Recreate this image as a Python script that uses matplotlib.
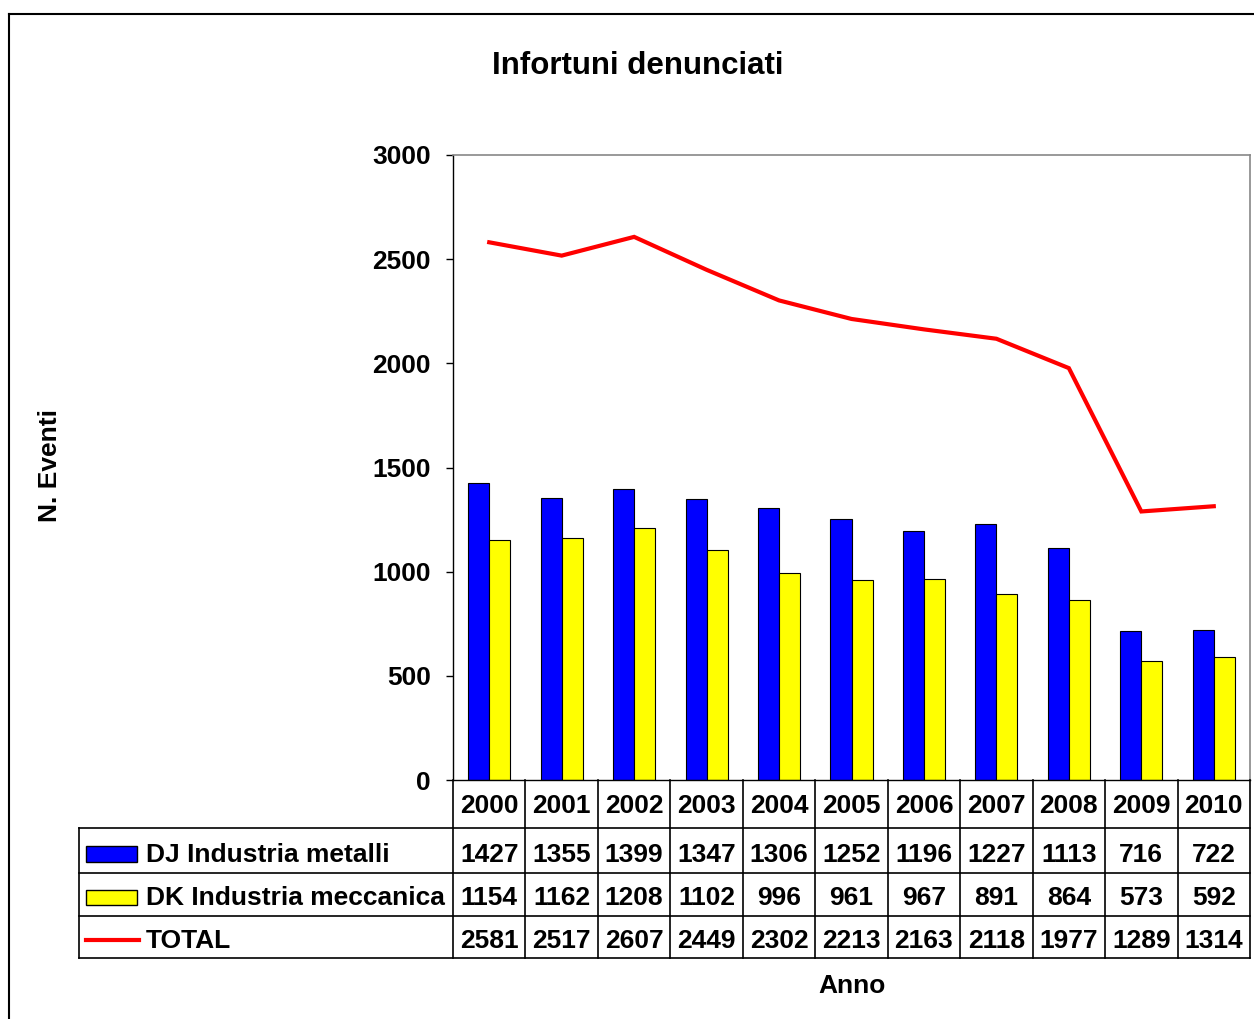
import matplotlib
matplotlib.use("Agg")
import matplotlib.pyplot as plt
from matplotlib.lines import Line2D
from matplotlib.patches import Rectangle
import matplotlib.transforms as mtransforms
import numpy as np

years = ["2000", "2001", "2002", "2003", "2004", "2005", "2006", "2007", "2008", "2009", "2010"]
dj_metalli = [1427, 1355, 1399, 1347, 1306, 1252, 1196, 1227, 1113, 716, 722]
dk_meccanica = [1154, 1162, 1208, 1102, 996, 961, 967, 891, 864, 573, 592]
total = [2581, 2517, 2607, 2449, 2302, 2213, 2163, 2118, 1977, 1289, 1314]
series_names = ["DJ Industria metalli", "DK Industria meccanica", "TOTAL"]
yticks = [0, 500, 1000, 1500, 2000, 2500, 3000]

plt.rcParams['font.family'] = ['Liberation Sans', 'DejaVu Sans']
plt.rcParams['font.weight'] = 'bold'

W, H = 1254, 1019
fig = plt.figure(figsize=(W / 100, H / 100), dpi=100)
fig.patch.set_facecolor('white')

def fx(px):
    return px / W

def fy(py):
    return 1 - py / H

ax = fig.add_axes([fx(453), fy(780), fx(1250) - fx(453), fy(155) - fy(780)])
x = np.arange(len(years))
bw = 0.29
ax.bar(x - bw / 2, dj_metalli, width=bw, color='#0000FF', edgecolor='black', linewidth=0.8, zorder=2)
ax.bar(x + bw / 2, dk_meccanica, width=bw, color='#FFFF00', edgecolor='black', linewidth=0.8, zorder=2)
ax.plot(x, total, color='#FF0000', linewidth=3, zorder=3, solid_joinstyle='miter')

ax.set_xlim(-0.5, len(years) - 0.5)
ax.set_ylim(0, 3000)
ax.set_yticks(yticks)
ax.set_yticklabels([str(v) for v in yticks], fontsize=19, fontweight='bold')
ax.set_xticks([])
ax.tick_params(axis='y', direction='out', length=5, width=1, pad=11, color='black')
for s in ['left', 'bottom']:
    ax.spines[s].set_color('black')
    ax.spines[s].set_linewidth(1)
for s in ['top', 'right']:
    ax.spines[s].set_color('#888888')
    ax.spines[s].set_linewidth(1.2)

# Data table below the plot
trans = mtransforms.blended_transform_factory(ax.transData, fig.transFigure)
lc = 'black'
lw = 1.2
for k in range(len(years) + 1):
    xb = k - 0.5
    fig.add_artist(Line2D([xb, xb], [fy(780), fy(958)], transform=trans, color=lc, lw=lw))
for py in [828, 873, 916, 958]:
    fig.add_artist(Line2D([fx(79), fx(1250)], [fy(py), fy(py)], transform=fig.transFigure, color=lc, lw=lw))
fig.add_artist(Line2D([fx(79), fx(79)], [fy(828), fy(958)], transform=fig.transFigure, color=lc, lw=lw))

fs = 19
for i, yr in enumerate(years):
    fig.text(i, fy(806), yr, transform=trans, ha='center', va='center', fontsize=fs, fontweight='bold')

row_y = [855, 898, 941]
rows = [dj_metalli, dk_meccanica, total]
for r, vals in enumerate(rows):
    for i, v in enumerate(vals):
        fig.text(i, fy(row_y[r]), str(v), transform=trans, ha='center', va='center', fontsize=fs, fontweight='bold')
    fig.text(fx(146), fy(row_y[r]), series_names[r], ha='left', va='center', fontsize=fs, fontweight='bold')

# legend keys
fig.add_artist(Rectangle((fx(86), fy(862)), fx(137) - fx(86), fy(846) - fy(862), transform=fig.transFigure,
                         facecolor='#0000FF', edgecolor='black', lw=1))
fig.add_artist(Rectangle((fx(86), fy(905)), fx(137) - fx(86), fy(890) - fy(905), transform=fig.transFigure,
                         facecolor='#FFFF00', edgecolor='black', lw=1))
fig.add_artist(Line2D([fx(86), fx(139)], [fy(940), fy(940)], transform=fig.transFigure, color='#FF0000', lw=3))

# titles
fig.text(fx(638), fy(66), "Infortuni denunciati", ha='center', va='center', fontsize=22.5, fontweight='bold')
fig.text(fx(852), fy(986), "Anno", ha='center', va='center', fontsize=19, fontweight='bold')
fig.text(fx(50), fy(465), "N. Eventi", ha='center', va='center', fontsize=19, fontweight='bold', rotation=90)

# outer chart frame
fig.add_artist(Line2D([fx(9), fx(9)], [fy(14), 0], transform=fig.transFigure, color='black', lw=1.5))
fig.add_artist(Line2D([fx(9), 1], [fy(14), fy(14)], transform=fig.transFigure, color='black', lw=1.5))

fig.savefig("out.png", dpi=100, facecolor='white')
